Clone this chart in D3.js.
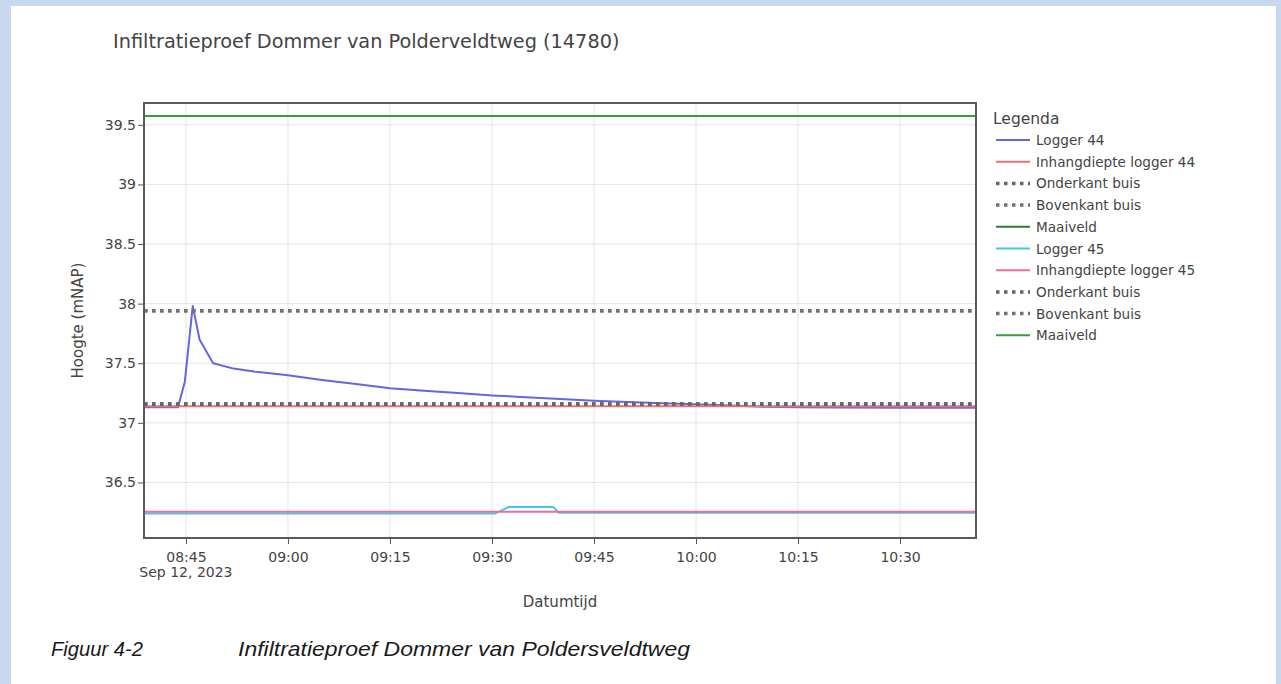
<!DOCTYPE html>
<html>
<head>
<meta charset="utf-8">
<script src="https://cdn.jsdelivr.net/npm/d3@7"></script>
<style>
  body { margin: 0; background: #c9d7ef; }
  svg { display: block; }
</style>
</head>
<body>
<svg id="chart" width="1281" height="684"></svg>
<script>
// === DATA ===
const day = "2023-09-12T";
const timeStart = "08:38:50";
const timeEnd = "10:41:10";

// Logger 44 (infiltration test in tube 44)
const logger44Times = ["08:38:50", "08:43:50", "08:44:50", "08:46:00", "08:47:00", "08:49:00",
  "08:52:00", "08:55:00", "09:00:00", "09:05:00", "09:10:00", "09:15:00", "09:20:00",
  "09:25:00", "09:30:00", "09:35:00", "09:40:00", "09:45:00", "09:50:00", "09:55:00",
  "10:00:00", "10:05:00", "10:10:00", "10:15:00", "10:20:00", "10:30:00", "10:41:10"];
const logger44Values = [37.13, 37.13, 37.345, 37.98, 37.70, 37.50,
  37.455, 37.43, 37.40, 37.36, 37.325, 37.29, 37.27,
  37.25, 37.23, 37.215, 37.20, 37.185, 37.175, 37.165,
  37.155, 37.145, 37.135, 37.13, 37.128, 37.127, 37.127];

// Logger 45
const logger45Times = ["08:38:50", "09:30:30", "09:32:30", "09:39:00", "09:39:50", "10:41:10"];
const logger45Values = [36.24, 36.24, 36.295, 36.295, 36.245, 36.245];

// Constant reference levels (mNAP)
const inhang44 = 37.14;
const onderkant44 = 37.158;
const bovenkant44 = 37.94;
const maaiveld44 = 39.574;
const inhang45 = 36.255;
const onderkant45 = 37.158;
const bovenkant45 = 37.94;
const maaiveld45 = 39.574;

const yTicks = [36.5, 37, 37.5, 38, 38.5, 39, 39.5];

const seriesNames = ["Logger 44", "Inhangdiepte logger 44", "Onderkant buis", "Bovenkant buis", "Maaiveld",
  "Logger 45", "Inhangdiepte logger 45", "Onderkant buis", "Bovenkant buis", "Maaiveld"];
const seriesColors = ["#6466e0", "#ee6f6f", "#666666", "#727272", "#2f7d32",
  "#3fcbe8", "#f2699a", "#666666", "#727272", "#3a9c3f"];
const seriesDotted = [false, false, true, true, false, false, false, true, true, false];

// === LAYOUT ===
const margin = { top: 103, left: 144 };
const width = 832;
const height = 435;
const font = "'DejaVu Sans', Verdana, sans-serif";
const textColor = "#444";

const parse = t => new Date(day + t);

const svg = d3.select("#chart");

// white page
svg.append("rect")
  .attr("x", 11).attr("y", 6)
  .attr("width", 1265).attr("height", 678)
  .attr("fill", "#fff");

const x = d3.scaleTime()
  .domain([parse(timeStart), parse(timeEnd)])
  .range([margin.left, margin.left + width]);
const y = d3.scaleLinear()
  .domain([36.034, 39.683])
  .range([margin.top + height, margin.top]);

const xTicks = x.ticks(d3.timeMinute.every(15));

// grid
const grid = svg.append("g").attr("stroke", "#e4e4e4").attr("stroke-width", 1);
grid.selectAll("line.gx").data(xTicks).join("line")
  .attr("class", "gx")
  .attr("x1", d => x(d)).attr("x2", d => x(d))
  .attr("y1", margin.top).attr("y2", margin.top + height);
grid.selectAll("line.gy").data(yTicks).join("line")
  .attr("class", "gy")
  .attr("x1", margin.left).attr("x2", margin.left + width)
  .attr("y1", d => y(d)).attr("y2", d => y(d));

// clip
svg.append("clipPath").attr("id", "plot-clip")
  .append("rect")
  .attr("x", margin.left).attr("y", margin.top)
  .attr("width", width).attr("height", height);

// series table built from the arrays
const flat = v => [timeStart, timeEnd].map(t => ({ t: parse(t), v }));
const seriesData = [
  logger44Times.map((t, i) => ({ t: parse(t), v: logger44Values[i] })),
  flat(inhang44), flat(onderkant44), flat(bovenkant44), flat(maaiveld44),
  logger45Times.map((t, i) => ({ t: parse(t), v: logger45Values[i] })),
  flat(inhang45), flat(onderkant45), flat(bovenkant45), flat(maaiveld45)
];

const line = d3.line().x(d => x(d.t)).y(d => y(d.v));

const lines = svg.append("g").attr("clip-path", "url(#plot-clip)");
seriesData.forEach((data, i) => {
  lines.append("path")
    .datum(data)
    .attr("fill", "none")
    .attr("stroke", seriesColors[i])
    .attr("stroke-width", seriesDotted[i] ? 3.5 : 2)
    .attr("stroke-dasharray", seriesDotted[i] ? "3.5,4.5" : null)
    .attr("stroke-linejoin", "round")
    .attr("d", line);
});

// plot frame
svg.append("rect")
  .attr("x", margin.left).attr("y", margin.top)
  .attr("width", width).attr("height", height)
  .attr("fill", "none")
  .attr("stroke", "#5a5a5a")
  .attr("stroke-width", 2);

// === AXES ===
const yAxisG = svg.append("g")
  .attr("transform", `translate(${margin.left - 1},0)`)
  .call(d3.axisLeft(y).tickValues(yTicks).tickSize(5).tickPadding(2).tickFormat(d => String(d)));
const xAxisG = svg.append("g")
  .attr("transform", `translate(0,${margin.top + height + 1})`)
  .call(d3.axisBottom(x).tickValues(xTicks).tickSize(5).tickPadding(8).tickFormat(d3.timeFormat("%H:%M")));

[xAxisG, yAxisG].forEach(a => {
  a.select(".domain").remove();
  a.selectAll(".tick line").attr("stroke", "#555");
  a.selectAll(".tick text")
    .attr("fill", textColor)
    .style("font-family", font)
    .style("font-size", "14px");
});

// date under the first tick
svg.append("text")
  .attr("x", x(xTicks[0]))
  .attr("y", 577)
  .attr("text-anchor", "middle")
  .attr("fill", textColor)
  .style("font-family", font)
  .style("font-size", "14px")
  .text("Sep 12, 2023");

// titles
svg.append("text")
  .attr("x", 113).attr("y", 48)
  .attr("fill", textColor)
  .style("font-family", font)
  .style("font-size", "19.3px")
  .text("Infiltratieproef Dommer van Polderveldtweg (14780)");

svg.append("text")
  .attr("x", margin.left + width / 2).attr("y", 607)
  .attr("text-anchor", "middle")
  .attr("fill", textColor)
  .style("font-family", font)
  .style("font-size", "15px")
  .text("Datumtijd");

svg.append("text")
  .attr("transform", `translate(83,${margin.top + height / 2}) rotate(-90)`)
  .attr("text-anchor", "middle")
  .attr("fill", textColor)
  .style("font-family", font)
  .style("font-size", "15px")
  .text("Hoogte (mNAP)");

// === LEGEND ===
const legend = svg.append("g").attr("transform", "translate(993,0)");
legend.append("text")
  .attr("x", 0).attr("y", 124)
  .attr("fill", textColor)
  .style("font-family", font)
  .style("font-size", "15.5px")
  .text("Legenda");

const items = legend.selectAll("g.item")
  .data(seriesNames)
  .join("g")
  .attr("class", "item")
  .attr("transform", (d, i) => `translate(0,${140 + i * 21.7})`);
items.append("line")
  .attr("x1", 3).attr("x2", 37)
  .attr("stroke", (d, i) => seriesColors[i])
  .attr("stroke-width", (d, i) => seriesDotted[i] ? 3.5 : 2)
  .attr("stroke-dasharray", (d, i) => seriesDotted[i] ? "3.5,4.5" : null);
items.append("text")
  .attr("x", 43).attr("y", 5)
  .attr("fill", textColor)
  .style("font-family", font)
  .style("font-size", "13.6px")
  .text(d => d);

// === CAPTION ===
const caption = svg.append("g")
  .style("font-family", "'Liberation Sans', Arial, sans-serif")
  .style("font-style", "italic")
  .style("font-size", "21px")
  .attr("fill", "#1a1a1a");
caption.append("text").attr("x", 51).attr("y", 656)
  .attr("textLength", 92).attr("lengthAdjust", "spacingAndGlyphs")
  .text("Figuur 4-2");
caption.append("text").attr("x", 238).attr("y", 656)
  .attr("textLength", 452).attr("lengthAdjust", "spacingAndGlyphs")
  .text("Infiltratieproef Dommer van Poldersveldtweg");
</script>
</body>
</html>
